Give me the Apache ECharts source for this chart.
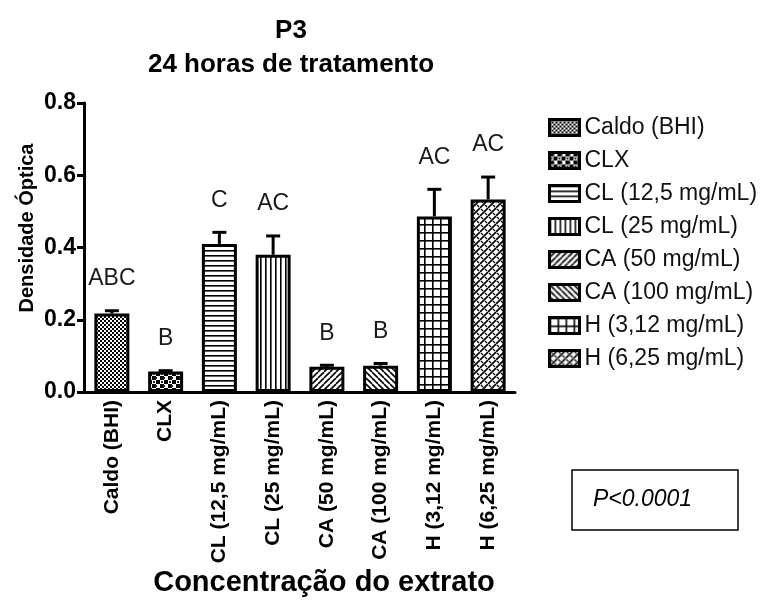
<!DOCTYPE html>
<html>
<head>
<meta charset="utf-8">
<script src="https://cdn.jsdelivr.net/npm/echarts@6/dist/echarts.min.js"></script>
<style>
html,body{margin:0;padding:0;background:#fff;}
#chart{width:773px;height:603px;}
</style>
</head>
<body>
<div id="chart"></div>
<script>
// ---- data ----
const categories = ['Caldo (BHI)', 'CLX', 'CL (12,5 mg/mL)', 'CL (25 mg/mL)', 'CA (50 mg/mL)', 'CA (100 mg/mL)', 'H (3,12 mg/mL)', 'H (6,25 mg/mL)'];
const means = [0.217, 0.057, 0.410, 0.380, 0.070, 0.073, 0.486, 0.533];
const errors = [0.008, 0.002, 0.032, 0.052, 0.004, 0.006, 0.075, 0.062];
const letters = ['ABC', 'B', 'C', 'AC', 'B', 'B', 'AC', 'AC'];
const yTicks = [0, 0.2, 0.4, 0.6, 0.8];
const titleLines = ['P3', '24 horas de tratamento'];
const yName = 'Densidade Óptica';
const xName = 'Concentração do extrato';
const pText = 'P<0.0001';

// ---- patterns ----
const patternKinds = ['fineChecker', 'bigChecker', 'hLines', 'vLines', 'diagUp', 'diagDown', 'grid', 'diagCross'];
function makePattern(kind) {
  const c = document.createElement('canvas');
  let s = 6;
  if (kind === 'fineChecker') s = 4;
  if (kind === 'bigChecker') s = 8;
  if (kind === 'hLines' || kind === 'vLines') s = 5;
  if (kind === 'grid') s = 8;
  if (kind === 'diagCross') s = 8;
  c.width = s; c.height = s;
  const g = c.getContext('2d');
  g.fillStyle = '#fff'; g.fillRect(0, 0, s, s);
  g.fillStyle = '#000'; g.strokeStyle = '#000';
  if (kind === 'fineChecker') {
    g.fillRect(0, 0, 2, 2); g.fillRect(2, 2, 2, 2);
  } else if (kind === 'bigChecker') {
    g.fillRect(0, 0, 4, 4); g.fillRect(4, 4, 4, 4);
    g.fillStyle = '#222';
    g.fillRect(3, 1, 2, 2); g.fillRect(1, 5, 2, 2);
  } else if (kind === 'hLines') {
    g.fillRect(0, 0, s, 1.6);
  } else if (kind === 'vLines') {
    g.fillRect(0, 0, 1.6, s);
  } else if (kind === 'grid') {
    g.fillRect(0, 0, s, 1.6); g.fillRect(0, 0, 1.6, s);
  } else if (kind === 'diagUp' || kind === 'diagDown' || kind === 'diagCross') {
    g.lineWidth = 1.6;
    const up = (kind !== 'diagDown');
    for (let k = -1; k <= 1; k++) {
      g.beginPath();
      if (up) { g.moveTo(k * s, s); g.lineTo(k * s + s, 0); }
      else { g.moveTo(k * s, 0); g.lineTo(k * s + s, s); }
      g.stroke();
    }
    if (kind === 'diagCross') {
      g.lineWidth = 1.2;
      g.beginPath(); g.moveTo(1, 1); g.lineTo(3, 3); g.stroke();
      g.beginPath(); g.moveTo(5, 5); g.lineTo(7, 7); g.stroke();
    }
  }
  return { image: c, repeat: 'repeat' };
}

const FONT = '"Liberation Sans", Arial, sans-serif';

const barSeries = categories.map(function (name, i) {
  return {
    name: name,
    type: 'bar',
    stack: 'all',
    barWidth: 35,
    itemStyle: { color: makePattern(patternKinds[i]), borderColor: '#000', borderWidth: 3 },
    data: categories.map(function (_, j) { return j === i ? means[i] : '-'; }),
    z: 2
  };
});

const errSeries = {
  name: 'err',
  type: 'custom',
  data: means.map(function (m, i) { return [i, m, m + errors[i]]; }),
  encode: { x: 0, y: [1, 2] },
  z: 5,
  renderItem: function (params, api) {
    const i = params.dataIndex;
    const x = api.value(0);
    const base = api.coord([x, api.value(1)]);
    const top = api.coord([x, api.value(2)]);
    const hw = 7;
    return {
      type: 'group',
      children: [
        { type: 'line', shape: { x1: base[0], y1: base[1], x2: top[0], y2: top[1] }, style: { stroke: '#000', lineWidth: 3 } },
        { type: 'line', shape: { x1: top[0] - hw, y1: top[1], x2: top[0] + hw, y2: top[1] }, style: { stroke: '#000', lineWidth: 3 } },
        { type: 'text', x: top[0], y: top[1] - 32, style: { text: letters[i], align: 'center', verticalAlign: 'middle', fontSize: 23, fontFamily: FONT, fill: '#1a1a1a' } }
      ]
    };
  }
};

const chart = echarts.init(document.getElementById('chart'), null, { renderer: 'canvas' });
chart.setOption({
  backgroundColor: '#fff',
  animation: false,
  title: {
    text: titleLines.join('\n'),
    left: 286,
    top: 9,
    textAlign: 'center',
    textStyle: { fontSize: 26, fontWeight: 'bold', fontFamily: FONT, color: '#000', lineHeight: 34 }
  },
  legend: {
    data: categories,
    orient: 'vertical',
    left: 543,
    top: 111,
    icon: 'rect',
    itemWidth: 30,
    itemHeight: 16,
    itemGap: 10,
    itemTextGap: 21,
    itemStyle: { borderColor: '#000', borderWidth: 3 },
    textStyle: { fontSize: 23, fontFamily: FONT, color: '#111' }
  },
  grid: { left: 85, top: 103, width: 430, height: 289, containLabel: false },
  xAxis: {
    type: 'category',
    data: categories,
    axisLine: { lineStyle: { color: '#000', width: 3 } },
    axisTick: { alignWithLabel: true, length: 7, lineStyle: { color: '#000', width: 3 } },
    axisLabel: { rotate: 90, interval: 0, margin: 8, fontSize: 21, fontWeight: 'bold', fontFamily: FONT, color: '#000' }
  },
  yAxis: {
    type: 'value',
    min: yTicks[0],
    max: yTicks[yTicks.length - 1],
    interval: yTicks[1] - yTicks[0],
    offset: 1,
    axisLine: { show: true, lineStyle: { color: '#000', width: 3 } },
    axisTick: { show: true, length: 7, lineStyle: { color: '#000', width: 3 } },
    splitLine: { show: false },
    axisLabel: { margin: 8, fontSize: 23, fontWeight: 'bold', fontFamily: FONT, color: '#000', formatter: function (v) { return v.toFixed(1); } }
  },
  graphic: [
    { type: 'text', x: 27, y: 228, rotation: Math.PI / 2, style: { text: yName, align: 'center', verticalAlign: 'middle', fontSize: 20, fontWeight: 'bold', fontFamily: FONT, fill: '#000' } },
    { type: 'text', x: 324, y: 583, style: { text: xName, align: 'center', verticalAlign: 'middle', fontSize: 29, fontWeight: 'bold', fontFamily: FONT, fill: '#000' } },
    { type: 'rect', shape: { x: 572, y: 470, width: 166, height: 60 }, style: { fill: '#fff', stroke: '#000', lineWidth: 1.5 } },
    { type: 'text', x: 593, y: 500, style: { text: pText, align: 'left', verticalAlign: 'middle', fontSize: 23, fontStyle: 'italic', fontFamily: FONT, fill: '#000' } }
  ],
  series: barSeries.concat([errSeries])
});
</script>
</body>
</html>
